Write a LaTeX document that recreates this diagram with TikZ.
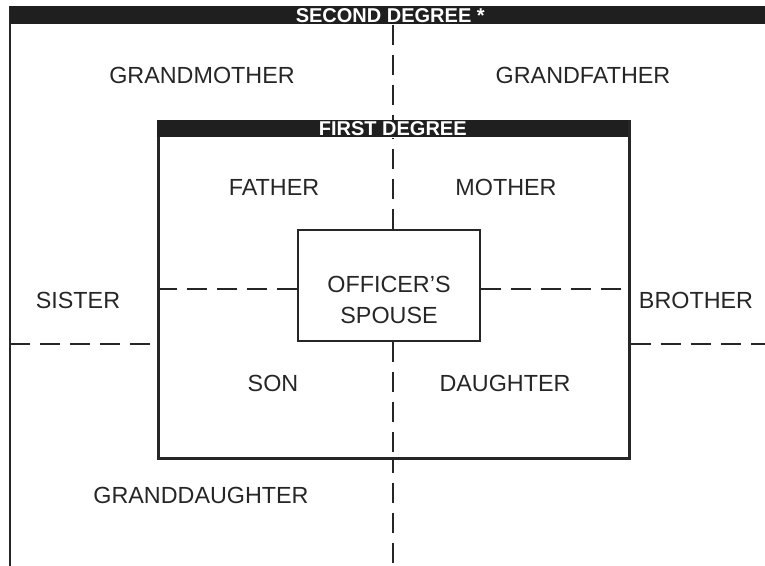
\documentclass[tikz,border=0pt]{standalone}
\usepackage{fontspec}
\setmainfont{Liberation Sans}

\begin{document}
\begin{tikzpicture}[x=0.75pt,y=-0.75pt,
    rel/.style={text=black!85,font=\fontsize{17.5}{23}\selectfont,align=center},
    bar/.style={fill=black!88,text=white,inner sep=0pt,font=\bfseries\fontsize{15}{16}\selectfont},
    frame/.style={draw=black!85,line width=2.2pt,inner sep=0pt},
    divider/.style={draw=black!85,line width=2.2pt,dash pattern=on 15pt off 7.5pt}]
      % \draw[help lines](0,0) grid[step=50] (765,566);
      \useasboundingbox (0,0) rectangle (765,566);
      \clip (0,0) rectangle (765,566);

      \coordinate (axis) at (393,0);
      \coordinate (inner) at (0,289);
      \coordinate (outer) at (0,344);

      \draw [frame] (10,6) -- (10,600) coordinate (seconddown);
      \draw (10,6) node [bar,anchor=north west,minimum width=760*0.75pt,minimum height=18*0.75pt] (second) {SECOND DEGREE *};
      \draw (157,120) node [frame,anchor=north west,minimum width=471*0.75pt,minimum height=337*0.75pt] (firstbox) {};
      \draw (157,120) node [bar,anchor=north west,minimum width=471*0.75pt,minimum height=17*0.75pt] (first) {FIRST DEGREE};
      \draw (389,285.5) node [frame,minimum width=182*0.75pt,minimum height=111*0.75pt] (spouse) {};
      \draw (389,300) node [rel] (spousetext) {OFFICER’S\\SPOUSE};

      \draw (202,75) node [rel] (grandmother) {GRANDMOTHER};
      \draw (583,75) node [rel] (grandfather) {GRANDFATHER};
      \draw (274,187) node [rel] (father) {FATHER};
      \draw (506,187) node [rel] (mother) {MOTHER};
      \draw (78,300) node [rel] (sister) {SISTER};
      \draw (696,300) node [rel] (brother) {BROTHER};
      \draw (273,383) node [rel] (son) {SON};
      \draw (505,383) node [rel] (daughter) {DAUGHTER};
      \draw (201,495) node [rel] (granddaughter) {GRANDDAUGHTER};

      \draw [divider] (second.south -| axis) -- (first.north -| axis);
      \draw [divider] (spouse.north -| axis) -- (first.south -| axis);
      \draw [divider] (spouse.south -| axis) -- (firstbox.south -| axis);
      \draw [divider,dash phase=5pt] (firstbox.south -| axis) -- (393,600);
      \draw [divider] (firstbox.west |- inner) -- (spouse.west |- inner);
      \draw [divider] (spouse.east |- inner) -- (firstbox.east |- inner);
      \draw [divider] (seconddown |- outer) -- (firstbox.west |- outer);
      \draw [divider] (firstbox.east |- outer) -- (780,344);
\end{tikzpicture}
\end{document}
